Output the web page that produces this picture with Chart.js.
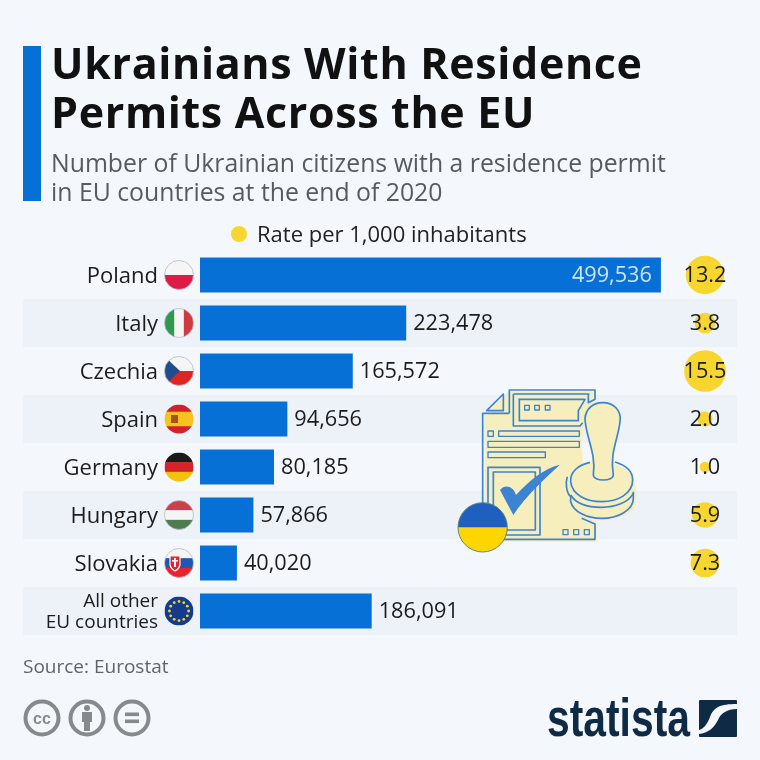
<!DOCTYPE html>
<html>
<head>
<meta charset="utf-8">
<title>Ukrainians With Residence Permits Across the EU</title>
<script src="https://cdn.jsdelivr.net/npm/chart.js@4"></script>
<style>
  html, body { margin: 0; padding: 0; background: #f4f8fc; }
  #page { position: relative; width: 760px; height: 760px; overflow: hidden; font-family: "Open Sans", sans-serif; color: #111; }
  #page > * { position: absolute; }
  #chart { left: 0; top: 0; }
  #accent { left: 23px; top: 46px; width: 18px; height: 155px; background: #0670d6; }
  #title { left: 51px; top: 38px; font-size: 43px; line-height: 49px; font-weight: 700; letter-spacing: 0.65px; white-space: nowrap; }
  #subtitle { left: 51px; top: 148px; font-size: 24.8px; line-height: 29px; color: #555b60; white-space: nowrap; }
  #legend { left: 231px; top: 219px; font-size: 22px; line-height: 28px; color: #222; white-space: nowrap; padding-left: 26px; }
  #legend i { position: absolute; left: 0; top: 7px; width: 16px; height: 16px; border-radius: 50%; background: #f7d72f; }
  #source { left: 23px; top: 654px; font-size: 19px; line-height: 24px; color: #5f6569; }
  #art { left: 450px; top: 380px; }
  #cc { left: 20px; top: 697px; }
  #logo { left: 540px; top: 695px; }
</style>
</head>
<body>
<div id="page">
  <canvas id="chart" width="760" height="760"></canvas>
  <div id="accent"></div>
  <div id="title">Ukrainians With Residence<br>Permits Across the EU</div>
  <div id="subtitle">Number of Ukrainian citizens with a residence permit<br>in EU countries at the end of 2020</div>
  <div id="legend"><i></i>Rate per 1,000 inhabitants</div>
  <div id="source">Source: Eurostat</div>

  <svg id="art" width="200" height="190" viewBox="0 0 600 570">
    <g fill="#f6efbd">
      <path d="M105,108 L175,35 H438 V60 L420,130 L400,140 L395,195 L400,250 L365,270 L350,300 L355,370 L385,400 L440,425 V485 H105 Z"/>
      <path d="M408,110 C408,85 430,68 458,68 C490,68 515,90 512,125 C505,170 482,215 492,250 C530,262 560,290 558,340 V370 C550,405 500,420 450,418 C395,415 355,395 350,360 V300 C355,270 390,250 425,246 C428,210 410,160 408,110 Z"/>
    </g>
    <g fill="none" stroke="#3d83d3" stroke-width="5" stroke-linejoin="round">
      <path d="M178,100 V30 H435 V58 L415,68 V42"/>
      <path d="M178,100 H98 V478 H435 V432 L395,415"/>
      <path d="M110,92 L160,42 V92 Z"/>
      <path d="M190,42 H418 M190,42 V138 H390 L398,128"/>
      <path d="M205,58 H405 L385,92 V122 H208 V58"/>
      <rect x="224" y="76" width="14" height="14" stroke-width="4"/>
      <rect x="254" y="76" width="14" height="14" stroke-width="4"/>
      <rect x="286" y="76" width="14" height="14" stroke-width="4"/>
      <rect x="114" y="153" width="16" height="16" stroke-width="4"/>
      <rect x="146" y="153" width="242" height="16" stroke-width="4"/>
      <rect x="114" y="184" width="274" height="18" stroke-width="4"/>
      <rect x="114" y="216" width="172" height="17" stroke-width="4"/>
      <path d="M270,262 H114 V465 H270 Z"/>
      <path d="M256,276 H130 V450 H256 Z"/>
      <rect x="339" y="449" width="15" height="15" stroke-width="4"/>
      <rect x="371" y="449" width="15" height="15" stroke-width="4"/>
      <rect x="403" y="449" width="15" height="15" stroke-width="4"/>
      <path d="M405,115 C408,85 430,68 458,68 C490,68 515,90 510,125 C505,175 478,220 490,285 C490,305 430,305 430,285 C440,220 405,165 405,115 Z"/>
      <path d="M420,247 C385,255 360,275 362,305 C366,345 410,365 455,365 C505,365 548,340 548,300 C548,272 525,255 495,246"/>
      <path d="M352,290 C345,310 350,340 362,350 V365 C370,395 410,415 455,415 C505,415 550,390 550,355 V335"/>
      <path d="M362,345 C380,375 420,382 455,382 C495,382 535,368 550,340"/>
    </g>
    <path d="M150,330 C165,312 190,318 198,345 C235,305 280,265 330,254 C285,295 225,350 190,405 Z" fill="#3d83d3"/>
    <circle cx="98" cy="442" r="74" fill="#ffd500"/>
    <path d="M24,442 A74,74 0 0 1 172,442 Z" fill="#1f5fbf"/>
    <circle cx="98" cy="442" r="74" fill="none" stroke="#5d8a80" stroke-width="3"/>
  </svg>

  <svg id="cc" width="136" height="44" viewBox="0 0 136 44">
    <g fill="none" stroke="#868a8c" stroke-width="4">
      <circle cx="22" cy="21" r="16.5"/>
      <circle cx="67" cy="21" r="16.5"/>
      <circle cx="112" cy="21" r="16.5"/>
    </g>
    <text x="22" y="27" text-anchor="middle" font-family="Liberation Sans, sans-serif" font-size="16" font-weight="700" fill="#868a8c">cc</text>
    <g fill="#868a8c">
      <circle cx="67" cy="11" r="3"/>
      <path d="M62,15 H72 V25 H70 V34 H64 V25 H62 Z"/>
      <rect x="105" y="15.5" width="14" height="3.6"/>
      <rect x="105" y="22.5" width="14" height="3.6"/>
    </g>
  </svg>

  <svg id="logo" width="200" height="48" viewBox="0 0 200 48">
    <text x="7" y="41" font-family="Liberation Sans, sans-serif" font-size="54" font-weight="700" textLength="143" lengthAdjust="spacingAndGlyphs" fill="#0f2a45">statista</text>
    <rect x="159" y="5" width="38" height="37" rx="1" fill="#0f2a45"/>
    <path d="M197,9 C180,9 174,12 170,22 C167,30 163,34 159,35 V39 C168,38 174,33 178,25 C181,18 187,14 197,14 Z" fill="#f4f8fc"/>
  </svg>
</div>

<script>
const categories = ["Poland", "Italy", "Czechia", "Spain", "Germany", "Hungary", "Slovakia", ["All other", "EU countries"]];
const flags = ["poland", "italy", "czechia", "spain", "germany", "hungary", "slovakia", "eu"];
const permits = [499536, 223478, 165572, 94656, 80185, 57866, 40020, 186091];
const rates = [13.2, 3.8, 15.5, 2.0, 1.0, 5.9, 7.3];

const BLUE = "#0670d6";
const YELLOW = "#f7d72f";
const TEXT = "#1c1c1c";
const FONT = '"Open Sans", sans-serif';
const RATE_COLUMN = 547300; // keeps the bubbles in their own column at the right

function stripes(ctx, cx, cy, r, colors) {
  const h = (r * 2) / colors.length;
  colors.forEach((c, i) => {
    ctx.fillStyle = c;
    ctx.fillRect(cx - r, cy - r + i * h, r * 2, h + 0.5);
  });
}

function drawFlag(ctx, name, cx, cy, r) {
  ctx.save();
  ctx.beginPath();
  ctx.arc(cx, cy, r, 0, Math.PI * 2);
  ctx.clip();
  if (name === "poland") stripes(ctx, cx, cy, r, ["#f5f5f5", "#dc1c46"]);
  if (name === "germany") stripes(ctx, cx, cy, r, ["#1a1a1a", "#d8232a", "#f4c20d"]);
  if (name === "hungary") stripes(ctx, cx, cy, r, ["#cd3f4c", "#f5f5f5", "#4c7c50"]);
  if (name === "italy") {
    ctx.fillStyle = "#f5f5f5";
    ctx.fillRect(cx - r, cy - r, r * 2, r * 2);
    ctx.fillStyle = "#2f9a4d";
    ctx.fillRect(cx - r, cy - r, (r * 2) / 3, r * 2);
    ctx.fillStyle = "#cf3a40";
    ctx.fillRect(cx + r / 3, cy - r, (r * 2) / 3, r * 2);
  }
  if (name === "czechia") {
    stripes(ctx, cx, cy, r, ["#f5f5f5", "#dd2525"]);
    ctx.fillStyle = "#1f4e8c";
    ctx.beginPath();
    ctx.moveTo(cx - r, cy - r);
    ctx.lineTo(cx + 1, cy);
    ctx.lineTo(cx - r, cy + r);
    ctx.fill();
  }
  if (name === "spain") {
    stripes(ctx, cx, cy, r, ["#d5202c", "#f7c31c", "#f7c31c", "#d5202c"]);
    ctx.fillStyle = "#a5502a";
    ctx.fillRect(cx - 8, cy - 4, 7, 8);
  }
  if (name === "slovakia") {
    stripes(ctx, cx, cy, r, ["#f5f5f5", "#1f56b0", "#e8232b"]);
    ctx.fillStyle = "#e8232b";
    ctx.strokeStyle = "#f5f5f5";
    ctx.lineWidth = 1.2;
    ctx.beginPath();
    ctx.moveTo(cx - 9, cy - 7);
    ctx.lineTo(cx + 1, cy - 7);
    ctx.lineTo(cx + 1, cy + 2);
    ctx.quadraticCurveTo(cx, cy + 6, cx - 4, cy + 8);
    ctx.quadraticCurveTo(cx - 8, cy + 6, cx - 9, cy + 2);
    ctx.closePath();
    ctx.fill();
    ctx.stroke();
    ctx.fillStyle = "#f5f5f5";
    ctx.fillRect(cx - 5, cy - 5, 2, 9);
    ctx.fillRect(cx - 7, cy - 3, 6, 1.6);
  }
  if (name === "eu") {
    ctx.fillStyle = "#143c8c";
    ctx.fillRect(cx - r, cy - r, r * 2, r * 2);
    ctx.fillStyle = "#f5d327";
    for (let i = 0; i < 12; i++) {
      const a = (i * Math.PI) / 6;
      ctx.beginPath();
      ctx.arc(cx + Math.cos(a) * r * 0.66, cy + Math.sin(a) * r * 0.66, 1.4, 0, Math.PI * 2);
      ctx.fill();
    }
  }
  ctx.restore();
  if (name === "poland" || name === "czechia" || name === "italy" || name === "hungary" || name === "slovakia") {
    ctx.strokeStyle = "#b9bcc0";
    ctx.lineWidth = 0.8;
    ctx.beginPath();
    ctx.arc(cx, cy, r, 0, Math.PI * 2);
    ctx.stroke();
  }
}

// alternating row bands behind everything
const rowBands = {
  id: "rowBands",
  beforeDraw(chart) {
    const { ctx, scales: { y } } = chart;
    const half = (y.getPixelForValue(1) - y.getPixelForValue(0)) / 2;
    ctx.save();
    ctx.fillStyle = "#edf1f8";
    categories.forEach((c, i) => {
      if (i % 2 === 1) ctx.fillRect(23, y.getPixelForValue(i) - half, 714, half * 2);
    });
    ctx.restore();
  },
};

const rowFlags = {
  id: "rowFlags",
  afterDraw(chart) {
    const { ctx, scales: { y } } = chart;
    flags.forEach((f, i) => drawFlag(ctx, f, 179, y.getPixelForValue(i), 14.5));
  },
};

// value labels on bars and bubbles
const valueLabels = {
  id: "valueLabels",
  afterDraw(chart) {
    const { ctx } = chart;
    ctx.save();
    ctx.textBaseline = "middle";
    ctx.font = "21.7px " + FONT;
    chart.getDatasetMeta(0).data.forEach((bar, i) => {
      const inside = i === 0;
      ctx.fillStyle = inside ? "#cfe3f8" : TEXT;
      ctx.textAlign = inside ? "right" : "left";
      ctx.fillText(permits[i].toLocaleString("en-US"), bar.x + (inside ? -9 : 7), bar.y + 1);
    });
    ctx.fillStyle = TEXT;
    ctx.textAlign = "center";
    chart.getDatasetMeta(1).data.forEach((pt, i) => {
      ctx.fillText(rates[i].toFixed(1), pt.x, pt.y + 1);
    });
    ctx.restore();
  },
};

new Chart(document.getElementById("chart"), {
  data: {
    labels: categories,
    datasets: [
      {
        type: "bar",
        label: "Residence permits",
        indexAxis: "y",
        data: permits,
        backgroundColor: BLUE,
        barPercentage: 35 / 48,
        categoryPercentage: 1,
      },
      {
        type: "bubble",
        label: "Rate per 1,000 inhabitants",
        data: rates.map((v, i) => ({ x: RATE_COLUMN, y: i, r: 5.3 * Math.sqrt(v) })),
        backgroundColor: YELLOW,
        borderWidth: 0,
        hoverBorderWidth: 0,
      },
    ],
  },
  options: {
    indexAxis: "y",
    responsive: false,
    animation: false,
    layout: { padding: { top: 251, bottom: 125, left: 0, right: 23 } },
    plugins: { legend: { display: false }, tooltip: { enabled: false } },
    scales: {
      x: { type: "linear", display: false, min: 0, max: 582000 },
      y: {
        type: "category",
        offset: true,
        grid: { display: false, drawTicks: false },
        border: { display: false },
        afterFit(scale) {
          scale.width = 200;
        },
        ticks: {
          autoSkip: false,
          maxRotation: 0,
          padding: 42,
          labelOffset: 1.5,
          color: TEXT,
          font: (ctx) => ({ family: FONT, size: ctx.index === 7 ? 19 : 22, lineHeight: ctx.index === 7 ? 1.1 : 1.2 }),
        },
      },
    },
  },
  plugins: [rowBands, rowFlags, valueLabels],
});
</script>
</body>
</html>
